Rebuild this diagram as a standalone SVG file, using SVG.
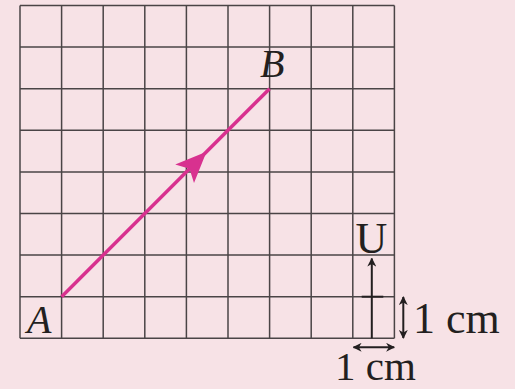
<svg xmlns="http://www.w3.org/2000/svg" width="515" height="389" viewBox="0 0 515 389">
<style>
.grid line{stroke:#4a4446;stroke-width:1.5}
.lbl{font-family:"Liberation Serif","Times New Roman",serif;fill:#231f20}
.it{font-style:italic}
.blk{stroke:#231f20;stroke-width:2;fill:none}
</style>
<defs>
<marker id="ahs" viewBox="0 0 10 10" refX="9" refY="5" markerWidth="9" markerHeight="9" orient="auto-start-reverse" markerUnits="userSpaceOnUse">
<path d="M0,0 L10,5 L0,10 L3,5 Z" fill="#231f20"/>
</marker>
</defs>
<rect width="515" height="389" fill="#f7e2e6"/>
<g id="grid" class="grid">
<line x1="20" y1="5.5" x2="20" y2="338.3"/>
<line x1="61.6" y1="5.5" x2="61.6" y2="338.3"/>
<line x1="103.2" y1="5.5" x2="103.2" y2="338.3"/>
<line x1="144.8" y1="5.5" x2="144.8" y2="338.3"/>
<line x1="186.4" y1="5.5" x2="186.4" y2="338.3"/>
<line x1="228" y1="5.5" x2="228" y2="338.3"/>
<line x1="269.6" y1="5.5" x2="269.6" y2="338.3"/>
<line x1="311.2" y1="5.5" x2="311.2" y2="338.3"/>
<line x1="352.8" y1="5.5" x2="352.8" y2="338.3"/>
<line x1="394.4" y1="5.5" x2="394.4" y2="338.3"/>
<line x1="20" y1="5.5" x2="394.4" y2="5.5"/>
<line x1="20" y1="47.1" x2="394.4" y2="47.1"/>
<line x1="20" y1="88.7" x2="394.4" y2="88.7"/>
<line x1="20" y1="130.3" x2="394.4" y2="130.3"/>
<line x1="20" y1="171.9" x2="394.4" y2="171.9"/>
<line x1="20" y1="213.5" x2="394.4" y2="213.5"/>
<line x1="20" y1="255.1" x2="394.4" y2="255.1"/>
<line x1="20" y1="296.7" x2="394.4" y2="296.7"/>
<line x1="20" y1="338.3" x2="394.4" y2="338.3"/>
</g>
<g id="connectors">
<line x1="61.6" y1="296.7" x2="269.6" y2="88.7" stroke="#d8318f" stroke-width="3.5"/>
<path d="M206.5,151.8 L175.2,164.4 L189.5,168.8 L194.0,183.0 Z" fill="#d8318f"/>
</g>
<g id="nodeA"><text class="lbl it" x="27" y="333" font-size="40">A</text></g>
<g id="nodeB"><text class="lbl it" x="260" y="77" font-size="40">B</text></g>
<g id="compass">
<line class="blk" x1="371.8" y1="338.3" x2="371.8" y2="258.5" marker-end="url(#ahs)"/>
<line x1="361.7" y1="296.7" x2="383.3" y2="296.7" stroke="#231f20" stroke-width="2"/>
<text class="lbl" x="371.5" y="253" font-size="44" text-anchor="middle">U</text>
</g>
<g id="scale">
<line class="blk" x1="403.3" y1="297" x2="403.3" y2="338" stroke-width="1.8" marker-start="url(#ahs)" marker-end="url(#ahs)"/>
<text class="lbl" x="413" y="333.3" font-size="44">1 cm</text>
<line class="blk" x1="353.5" y1="347.3" x2="394.2" y2="347.3" stroke-width="1.8" marker-start="url(#ahs)" marker-end="url(#ahs)"/>
<text class="lbl" x="335" y="380" font-size="41">1 cm</text>
</g>
</svg>
